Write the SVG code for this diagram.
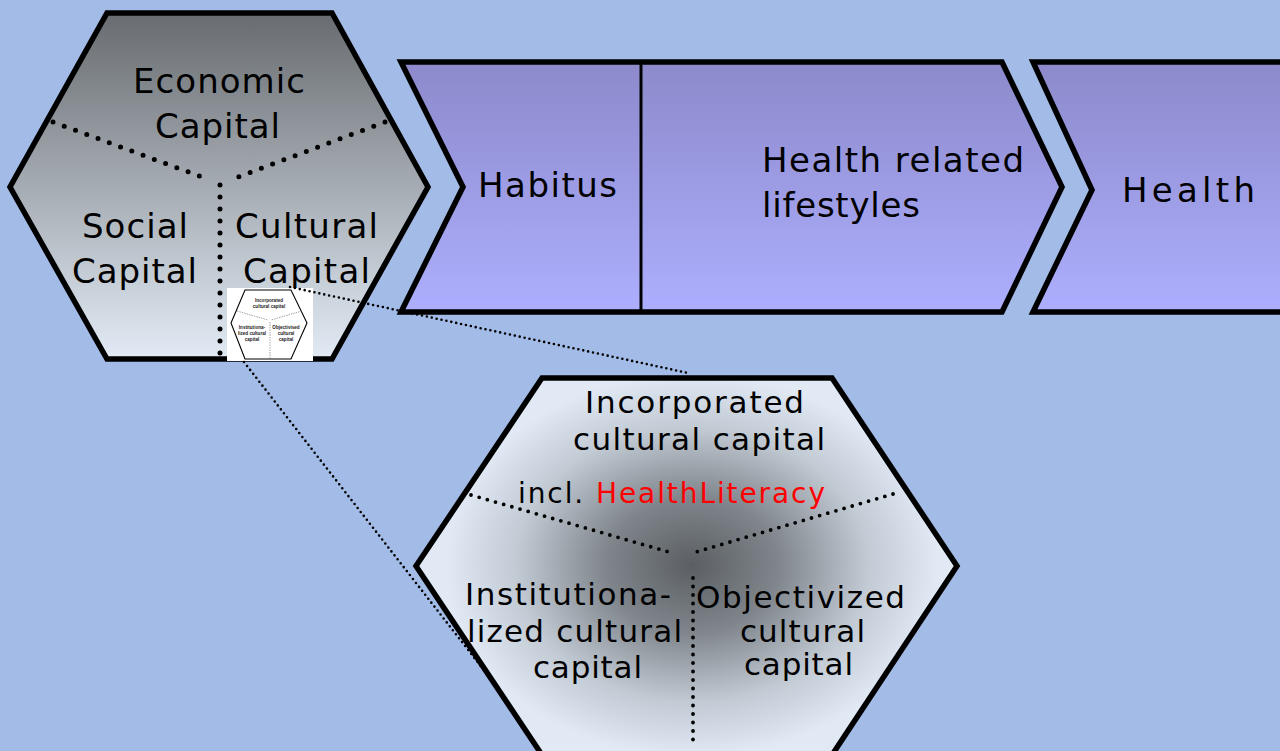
<svg xmlns="http://www.w3.org/2000/svg" width="1280" height="751" viewBox="0 0 1280 751">
<defs>
<linearGradient id="gTop" x1="0" y1="0" x2="0" y2="1">
<stop offset="0" stop-color="#686c70"/>
<stop offset="1" stop-color="#e2ebf5"/>
</linearGradient>
<linearGradient id="gChev" x1="0" y1="0" x2="0" y2="1">
<stop offset="0" stop-color="#8c8acb"/>
<stop offset="1" stop-color="#adaefe"/>
</linearGradient>
<radialGradient id="gBot" gradientUnits="userSpaceOnUse" cx="692" cy="565" r="245" gradientTransform="translate(692 565) scale(1 0.78) translate(-692 -565)">
<stop offset="0" stop-color="#5b5f63"/>
<stop offset="0.35" stop-color="#7f858b"/>
<stop offset="0.72" stop-color="#c2cad4"/>
<stop offset="1" stop-color="#e0e9f4"/>
</radialGradient>
</defs>
<style>
.t{font-family:"DejaVu Sans","Verdana",sans-serif;fill:#000;}
.big{font-size:34px;}
.mid{font-size:31px;}
.shape{stroke:#000;stroke-width:5.5;stroke-linejoin:miter;}
.dots{fill:none;stroke:#000;stroke-width:5;stroke-linecap:round;stroke-dasharray:0 12;}
.dots2{fill:none;stroke:#000;stroke-width:3.8;stroke-linecap:round;stroke-dasharray:0 8.5;}
.conn{fill:none;stroke:#000;stroke-width:2.6;stroke-linecap:round;stroke-dasharray:0 5;}
.tiny{font-family:"Liberation Sans",Arial,sans-serif;font-size:4.6px;font-weight:bold;fill:#222;text-anchor:middle;}
</style>
<rect width="1280" height="751" fill="#a3bbe7"/>

<g id="node-capitals">
<polygon class="shape" fill="url(#gTop)" points="107,13 332,13 428,187 332,359 107,359 10,187"/>
<line class="dots" x1="53" y1="122" x2="202" y2="177"/>
<line class="dots" x1="385" y1="122" x2="238" y2="177"/>
<line class="dots" x1="220" y1="185" x2="220" y2="357"/>
<text class="t big" x="133" y="93" textLength="172">Economic</text>
<text class="t big" x="155" y="138" textLength="125">Capital</text>
<text class="t big" x="82" y="238" textLength="106">Social</text>
<text class="t big" x="72" y="283" textLength="125">Capital</text>
<text class="t big" x="235" y="238" textLength="143">Cultural</text>
<text class="t big" x="243" y="283" textLength="127">Capital</text>
</g>

<g id="node-thumbnail">
<rect x="227" y="288" width="86" height="73" fill="#fff"/>
<polygon points="245,290 291,290 307,323 291,359 245,359 231,323" fill="#fff" stroke="#000" stroke-width="1.1"/>
<line x1="237" y1="311" x2="268" y2="320" stroke="#666" stroke-width="0.6" stroke-dasharray="1.5 1"/>
<line x1="302" y1="311" x2="271" y2="320" stroke="#666" stroke-width="0.6" stroke-dasharray="1.5 1"/>
<line x1="270" y1="322" x2="270" y2="358" stroke="#666" stroke-width="0.6" stroke-dasharray="1.5 1"/>
<text class="tiny" x="269" y="302">Incorporated</text>
<text class="tiny" x="269" y="308">cultural capital</text>
<text class="tiny" x="252" y="329">Institutiona-</text>
<text class="tiny" x="252" y="335">lized cultural</text>
<text class="tiny" x="252" y="341">capital</text>
<text class="tiny" x="286" y="329">Objectivised</text>
<text class="tiny" x="286" y="335">cultural</text>
<text class="tiny" x="286" y="341">capital</text>
</g>

<g id="node-habitus-lifestyles">
<polygon class="shape" fill="url(#gChev)" points="401,62 1002,62 1062,187 1002,312 401,312 463,187"/>
<line x1="641" y1="62" x2="641" y2="312" stroke="#000" stroke-width="3"/>
<text class="t big" x="478" y="197" textLength="139">Habitus</text>
<text class="t big" x="762" y="172" textLength="262">Health related</text>
<text class="t big" x="762" y="217" textLength="158">lifestyles</text>
</g>

<g id="node-health">
<polygon class="shape" fill="url(#gChev)" points="1033,62 1290,62 1290,312 1033,312 1092,190"/>
<text class="t big" x="1122" y="202" textLength="133">Health</text>
</g>

<g id="node-cultural-detail">
<polygon class="shape" fill="url(#gBot)" points="542,378 832,378 957,566 832,755 542,755 416,566"/>
<line class="dots2" x1="471" y1="495" x2="669" y2="552"/>
<line class="dots2" x1="893" y1="494" x2="696" y2="552"/>
<line class="dots2" x1="693" y1="578" x2="693" y2="748"/>
<text class="t mid" x="585" y="413" textLength="219">Incorporated</text>
<text class="t mid" x="573" y="450" textLength="252">cultural capital</text>
<text class="t" style="font-size:28px" x="518" y="503" textLength="307"><tspan>incl. </tspan><tspan fill="#ff0000">HealthLiteracy</tspan></text>
<text class="t mid" x="465" y="605" textLength="206">Institutiona-</text>
<text class="t mid" x="467" y="642" textLength="215">lized cultural</text>
<text class="t mid" x="533" y="678" textLength="109">capital</text>
<text class="t mid" x="696" y="608" textLength="209">Objectivized</text>
<text class="t mid" x="740" y="642" textLength="125">cultural</text>
<text class="t mid" x="744" y="675" textLength="109">capital</text>
</g>

<g id="connectors">
<line class="conn" x1="290" y1="287" x2="688" y2="373"/>
<line class="conn" x1="244" y1="362" x2="490" y2="678"/>
</g>
</svg>
